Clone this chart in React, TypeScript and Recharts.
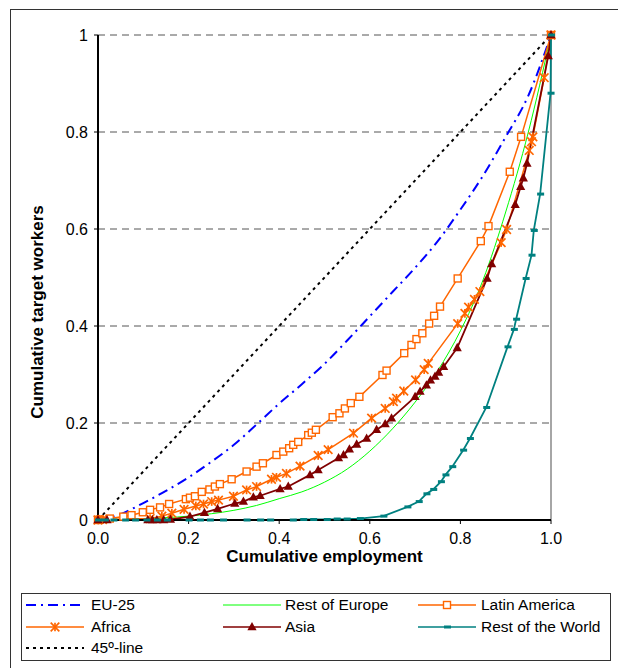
import { LineChart, Line, XAxis, YAxis, CartesianGrid, ReferenceLine } from 'recharts'

// cumulative employment (x) / cumulative target workers (y)
const euX = [0, 0.05, 0.1, 0.15, 0.2, 0.25, 0.3, 0.35, 0.4, 0.45, 0.5, 0.55, 0.6, 0.65, 0.7, 0.75, 0.8, 0.85, 0.9, 0.95, 1]
const euY = [0, 0.012, 0.035, 0.06, 0.088, 0.12, 0.155, 0.197, 0.24, 0.28, 0.322, 0.37, 0.42, 0.47, 0.52, 0.575, 0.64, 0.71, 0.79, 0.875, 1]

const restEuropeX = [0, 0.1, 0.2, 0.3, 0.35, 0.4, 0.45, 0.5, 0.55, 0.6, 0.65, 0.7, 0.75, 0.8, 0.85, 0.9, 0.95, 1]
const restEuropeY = [0, 0.003, 0.008, 0.02, 0.03, 0.044, 0.058, 0.078, 0.105, 0.142, 0.188, 0.243, 0.308, 0.39, 0.495, 0.635, 0.8, 1]

const latinX = [0, 0.004, 0.026, 0.056, 0.074, 0.099, 0.115, 0.137, 0.157, 0.194, 0.203, 0.214, 0.229, 0.246, 0.258, 0.269, 0.295, 0.328, 0.35, 0.364, 0.394, 0.409, 0.422, 0.431, 0.442, 0.464, 0.472, 0.481, 0.518, 0.533, 0.545, 0.558, 0.577, 0.628, 0.637, 0.676, 0.692, 0.703, 0.716, 0.731, 0.742, 0.755, 0.794, 0.845, 0.862, 0.909, 0.934, 1]
const latinY = [0, 0.001, 0.003, 0.007, 0.01, 0.016, 0.021, 0.026, 0.033, 0.043, 0.046, 0.049, 0.058, 0.063, 0.069, 0.074, 0.084, 0.1, 0.11, 0.117, 0.134, 0.141, 0.148, 0.155, 0.161, 0.175, 0.18, 0.186, 0.212, 0.22, 0.23, 0.241, 0.254, 0.299, 0.308, 0.344, 0.361, 0.373, 0.385, 0.405, 0.421, 0.44, 0.498, 0.575, 0.606, 0.718, 0.79, 1]

const africaX = [0, 0.01, 0.115, 0.141, 0.163, 0.19, 0.216, 0.233, 0.251, 0.266, 0.299, 0.328, 0.35, 0.383, 0.394, 0.416, 0.446, 0.486, 0.508, 0.564, 0.604, 0.634, 0.652, 0.659, 0.675, 0.701, 0.72, 0.729, 0.794, 0.81, 0.818, 0.831, 0.843, 0.89, 0.902, 0.952, 0.957, 0.96, 0.985, 1]
const africaY = [0, 0.001, 0.003, 0.008, 0.014, 0.022, 0.029, 0.033, 0.038, 0.041, 0.049, 0.062, 0.069, 0.084, 0.088, 0.096, 0.111, 0.133, 0.145, 0.179, 0.21, 0.23, 0.244, 0.251, 0.266, 0.289, 0.31, 0.323, 0.405, 0.426, 0.439, 0.455, 0.471, 0.572, 0.599, 0.762, 0.78, 0.79, 0.912, 1]

const asiaX = [0, 0.02, 0.11, 0.12, 0.13, 0.145, 0.16, 0.203, 0.235, 0.264, 0.302, 0.321, 0.343, 0.358, 0.402, 0.42, 0.468, 0.486, 0.531, 0.542, 0.555, 0.571, 0.593, 0.615, 0.634, 0.648, 0.7, 0.711, 0.725, 0.734, 0.744, 0.752, 0.763, 0.793, 0.859, 0.869, 0.921, 0.933, 0.939, 0.947, 0.994, 1]
const asiaY = [0, 0, 0, 0, 0, 0, 0.001, 0.007, 0.015, 0.023, 0.034, 0.038, 0.047, 0.05, 0.064, 0.069, 0.093, 0.103, 0.128, 0.134, 0.146, 0.156, 0.168, 0.186, 0.198, 0.21, 0.254, 0.265, 0.278, 0.288, 0.296, 0.304, 0.316, 0.355, 0.498, 0.528, 0.65, 0.687, 0.705, 0.735, 0.957, 1]

const worldX = [0, 0.015, 0.034, 0.06, 0.082, 0.107, 0.13, 0.152, 0.2, 0.225, 0.247, 0.276, 0.328, 0.358, 0.38, 0.43, 0.453, 0.475, 0.505, 0.527, 0.549, 0.578, 0.63, 0.683, 0.708, 0.725, 0.74, 0.757, 0.767, 0.782, 0.806, 0.821, 0.857, 0.904, 0.918, 0.923, 0.944, 0.957, 0.962, 0.976, 0.999, 1]
const worldY = [0, 0, 0, 0, 0, 0, 0, 0, 0, 0, 0, 0, 0, 0, 0, 0, 0.001, 0.001, 0.001, 0.002, 0.002, 0.003, 0.008, 0.027, 0.038, 0.054, 0.063, 0.079, 0.093, 0.11, 0.144, 0.168, 0.232, 0.357, 0.393, 0.414, 0.498, 0.546, 0.597, 0.672, 0.88, 1]

const diagX = [0, 1]
const diagY = [0, 1]

const xTicks = [0, 0.2, 0.4, 0.6, 0.8, 1]
const yTicks = [0, 0.2, 0.4, 0.6, 0.8, 1]

const FONT = 'Arial, "Liberation Sans", sans-serif'

const zip = (xs: number[], ys: number[]) => xs.map((x, i) => ({ x, y: ys[i] }))

const squareDot = (p: any) =>
  p.cx == null ? <g key={p.index} /> : (
    <rect key={p.index} x={p.cx - 3.5} y={p.cy - 3.5} width={7} height={7} fill="#fff" stroke="#FF6600" strokeWidth={1.4} />
  )

const starDot = (p: any) => {
  if (p.cx == null) return <g key={p.index} />
  const r = 4.3
  return (
    <g key={p.index} stroke="#FF6600" strokeWidth={1.7}>
      <line x1={p.cx} y1={p.cy - r} x2={p.cx} y2={p.cy + r} />
      <line x1={p.cx - r} y1={p.cy - r} x2={p.cx + r} y2={p.cy + r} />
      <line x1={p.cx - r} y1={p.cy + r} x2={p.cx + r} y2={p.cy - r} />
    </g>
  )
}

const triDot = (p: any) =>
  p.cx == null ? <g key={p.index} /> : (
    <path key={p.index} d={`M${p.cx},${p.cy - 5}L${p.cx + 4.6},${p.cy + 3.3}L${p.cx - 4.6},${p.cy + 3.3}Z`} fill="#800000" />
  )

const dashDot = (p: any) =>
  p.cx == null ? <g key={p.index} /> : (
    <rect key={p.index} x={p.cx - 3} y={p.cy - 1.5} width={7} height={3} fill="#008080" />
  )

type Item = { name: string; color: string; width: number; dash?: string; marker?: string }

const legendRows: Item[][] = [
  [
    { name: 'EU-25', color: '#0000FF', width: 2, dash: '10 5 2 5' },
    { name: 'Rest of Europe', color: '#00FF00', width: 1 },
    { name: 'Latin America', color: '#FF6600', width: 1.5, marker: 'square' },
  ],
  [
    { name: 'Africa', color: '#FF6600', width: 1.5, marker: 'star' },
    { name: 'Asia', color: '#800000', width: 1.5, marker: 'tri' },
    { name: 'Rest of the World', color: '#008080', width: 1.5, marker: 'dash' },
  ],
  [{ name: '45º-line', color: '#000', width: 2, dash: '3 4' }],
]
const colLine = [26, 223, 418]
const colText = [91, 285, 481]
const rowTop = [605, 627, 648]

function Icon({ it }: { it: Item }) {
  const w = 58
  const m = { cx: w / 2, cy: 6, index: 0 }
  return (
    <svg width={w} height={12} style={{ display: 'block' }}>
      <line x1={0} y1={6} x2={w} y2={6} stroke={it.color} strokeWidth={it.width} strokeDasharray={it.dash} />
      {it.marker === 'square' && squareDot(m)}
      {it.marker === 'star' && starDot(m)}
      {it.marker === 'tri' && triDot(m)}
      {it.marker === 'dash' && dashDot(m)}
    </svg>
  )
}

export default function App() {
  return (
    <div style={{ position: 'absolute', left: 0, top: 0, width: 618, height: 668, overflow: 'hidden', background: '#fff', fontFamily: FONT }}>
      <div style={{ position: 'absolute', left: 10, top: 9, width: 700, height: 800, border: '1.5px solid #333' }} />
      <div style={{ position: 'absolute', left: 0, top: 0 }}>
        <LineChart width={618} height={580} margin={{ top: 35, right: 67, bottom: 30, left: 38 }}>
          <CartesianGrid vertical={false} stroke="#555" strokeDasharray="7 5" />
          <XAxis
            type="number"
            dataKey="x"
            domain={[0, 1]}
            ticks={xTicks}
            tickFormatter={(v: number) => v.toFixed(1)}
            height={30}
            tickSize={4}
            tickMargin={9}
            axisLine={{ stroke: '#000', strokeWidth: 2 }}
            tickLine={{ stroke: '#000' }}
            tick={{ fill: '#000', fontSize: 16, fontFamily: FONT }}
          />
          <YAxis
            type="number"
            dataKey="y"
            domain={[0, 1]}
            ticks={yTicks}
            tickFormatter={(v: number) => (v === 0 || v === 1 ? String(v) : v.toFixed(1))}
            width={60}
            tickSize={4}
            tickMargin={6}
            axisLine={{ stroke: '#000', strokeWidth: 2 }}
            tickLine={{ stroke: '#000' }}
            tick={{ fill: '#000', fontSize: 16, fontFamily: FONT }}
          />
          <ReferenceLine x={1} stroke="#888" strokeWidth={1.5} />
          <Line data={zip(euX, euY)} dataKey="y" type="monotone" stroke="#0000FF" strokeWidth={2} strokeDasharray="10 5 2 5" dot={false} isAnimationActive={false} />
          <Line data={zip(restEuropeX, restEuropeY)} dataKey="y" type="monotone" stroke="#00FF00" strokeWidth={1} dot={false} isAnimationActive={false} />
          <Line data={zip(latinX, latinY)} dataKey="y" stroke="#FF6600" strokeWidth={1.5} dot={squareDot} isAnimationActive={false} />
          <Line data={zip(africaX, africaY)} dataKey="y" stroke="#FF6600" strokeWidth={1.5} dot={starDot} isAnimationActive={false} />
          <Line data={zip(asiaX, asiaY)} dataKey="y" stroke="#800000" strokeWidth={1.8} dot={triDot} isAnimationActive={false} />
          <Line data={zip(worldX, worldY)} dataKey="y" stroke="#008080" strokeWidth={1.8} dot={dashDot} isAnimationActive={false} />
          <Line data={zip(diagX, diagY)} dataKey="y" stroke="#000" strokeWidth={2} strokeDasharray="3 4" dot={false} isAnimationActive={false} />
        </LineChart>
      </div>
      <div style={{ position: 'absolute', left: 38, top: 312, transform: 'translate(-50%, -50%) rotate(-90deg)', whiteSpace: 'nowrap', fontWeight: 'bold', fontSize: 17 }}>
        Cumulative target workers
      </div>
      <div style={{ position: 'absolute', left: 324.5, top: 557, transform: 'translate(-50%, -50%)', whiteSpace: 'nowrap', fontWeight: 'bold', fontSize: 17 }}>
        Cumulative employment
      </div>
      <div style={{ position: 'absolute', left: 21, top: 593, width: 588, height: 66, border: '1px solid #333' }} />
      {legendRows.map((row, r) =>
        row.map((it, c) => (
          <div key={it.name}>
            <div style={{ position: 'absolute', left: colLine[c], top: rowTop[r] - 6 }}>
              <Icon it={it} />
            </div>
            <div style={{ position: 'absolute', left: colText[c], top: rowTop[r], transform: 'translateY(-50%)', fontSize: 15.5, whiteSpace: 'nowrap' }}>
              {it.name}
            </div>
          </div>
        ))
      )}
    </div>
  )
}
